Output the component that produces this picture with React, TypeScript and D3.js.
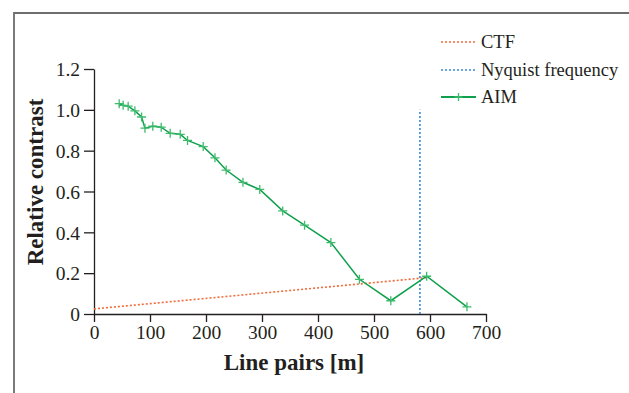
import React, { useEffect, useRef } from 'react';
import * as d3 from 'd3';

const aimX = [45, 52, 61, 73, 85, 91, 105, 120, 136, 154, 167, 195, 216, 236, 266, 296, 337, 376, 423, 474, 530, 594, 666];
const aimY = [1.03, 1.022, 1.018, 0.995, 0.965, 0.91, 0.92, 0.915, 0.885, 0.88, 0.85, 0.82, 0.765, 0.705, 0.645, 0.61, 0.505, 0.435, 0.35, 0.17, 0.065, 0.185, 0.035];

const ctfX = [0, 594];
const ctfY = [0.025, 0.178];

const nyquistX = 582;
const nyquistY = [0, 1.0];

const xTicks = [0, 100, 200, 300, 400, 500, 600, 700];
const yTicks = [0, 0.2, 0.4, 0.6, 0.8, 1.0, 1.2];

const legendLabels = ['CTF', 'Nyquist frequency', 'AIM'];

const COLORS = { ctf: '#f26b3a', nyq: '#3b88d2', aim: '#10a04c', mark: '#3dbb6c' };
const SERIF = '"Liberation Serif", "DejaVu Serif", serif';

const App = () => {
  const ref = useRef<SVGSVGElement>(null);

  useEffect(() => {
    const width = 629;
    const height = 393;
    const margin = { top: 69, right: 143, bottom: 79, left: 94 };
    const svg = d3.select(ref.current);
    svg.selectAll('*').remove();

    // frame
    svg.append('path')
      .attr('d', `M14,${height + 5} L14,13 L${width + 5},13`)
      .attr('fill', 'none')
      .attr('stroke', '#6d6d6d')
      .attr('stroke-width', 1.8);

    const x = d3.scaleLinear().domain([0, 700]).range([margin.left, width - margin.right]);
    const y = d3.scaleLinear().domain([0, 1.2]).range([height - margin.bottom, margin.top]);

    const xAxis = svg.append('g')
      .attr('transform', `translate(0,${y(0)})`)
      .call(d3.axisBottom(x).tickValues(xTicks).tickSize(8).tickSizeOuter(0).tickPadding(3).tickFormat(d3.format('d')));
    const yAxis = svg.append('g')
      .attr('transform', `translate(${x(0)},0)`)
      .call(d3.axisLeft(y).tickValues(yTicks).tickSize(10).tickSizeOuter(0).tickPadding(4)
        .tickFormat(d => (d === 0 ? '0' : d3.format('.1f')(d as number))));

    [xAxis, yAxis].forEach(g => {
      g.attr('font-family', SERIF);
      g.select('.domain').attr('stroke', '#231f20').attr('stroke-width', 1.3);
      g.selectAll('.tick line').attr('stroke', '#231f20').attr('stroke-width', 1.3);
      g.selectAll('.tick text')
        .attr('fill', '#231f20')
        .style('font-family', SERIF)
        .style('font-size', '19.5px');
    });
    yAxis.selectAll('.tick text').attr('dy', '0.35em');

    // axis titles
    svg.append('text')
      .attr('x', 294)
      .attr('y', 370)
      .attr('text-anchor', 'middle')
      .attr('fill', '#231f20')
      .style('font-family', SERIF)
      .style('font-weight', 'bold')
      .style('font-size', '23px')
      .text('Line pairs [m]');

    svg.append('text')
      .attr('transform', 'translate(43,182) rotate(-90)')
      .attr('text-anchor', 'middle')
      .attr('fill', '#231f20')
      .style('font-family', SERIF)
      .style('font-weight', 'bold')
      .style('font-size', '23px')
      .text('Relative contrast');

    // CTF
    svg.append('path')
      .attr('d', d3.line<number>().x(d => x(ctfX[d])).y(d => y(ctfY[d]))(d3.range(ctfX.length)))
      .attr('fill', 'none')
      .attr('stroke', COLORS.ctf)
      .attr('stroke-width', 1.6)
      .attr('stroke-dasharray', '2,2');

    // Nyquist
    svg.append('path')
      .attr('d', d3.line<number>().x(() => x(nyquistX)).y(d => y(d))(nyquistY))
      .attr('fill', 'none')
      .attr('stroke', COLORS.nyq)
      .attr('stroke-width', 1.6)
      .attr('stroke-dasharray', '2,2');

    // AIM
    svg.append('path')
      .attr('d', d3.line<number>().x(d => x(aimX[d])).y(d => y(aimY[d]))(d3.range(aimX.length)))
      .attr('fill', 'none')
      .attr('stroke', COLORS.aim)
      .attr('stroke-width', 1.5);

    const cross = (g: any, cx: number, cy: number, s: number) => {
      g.append('path')
        .attr('d', `M${cx - s},${cy} H${cx + s} M${cx},${cy - s} V${cy + s}`)
        .attr('stroke', COLORS.mark)
        .attr('stroke-width', 1.3)
        .attr('fill', 'none');
    };

    const marks = svg.append('g');
    aimX.forEach((v, i) => cross(marks, x(v), y(aimY[i]), 4.5));

    // legend
    const legend = svg.append('g');
    const lx0 = 441;
    const lx1 = 476;
    const ly = [42, 70, 97];
    const styles = [
      { stroke: COLORS.ctf, dash: '2,2' },
      { stroke: COLORS.nyq, dash: '2,2' },
      { stroke: COLORS.aim, dash: null },
    ];
    legendLabels.forEach((label, i) => {
      legend.append('line')
        .attr('x1', lx0).attr('x2', lx1)
        .attr('y1', ly[i]).attr('y2', ly[i])
        .attr('stroke', styles[i].stroke)
        .attr('stroke-width', i === 2 ? 2 : 1.5)
        .attr('stroke-dasharray', styles[i].dash);
      if (i === 2) cross(legend, (lx0 + lx1) / 2, ly[i], 4);
      legend.append('text')
        .attr('x', 481)
        .attr('y', ly[i])
        .attr('dy', '0.35em')
        .attr('fill', '#231f20')
        .style('font-family', SERIF)
        .style('font-size', '18.5px')
        .text(label);
    });
  }, []);

  return (
    <svg
      ref={ref}
      width={629}
      height={393}
      style={{ position: 'absolute', left: 0, top: 0, background: '#fff' }}
    />
  );
};

export default App;
